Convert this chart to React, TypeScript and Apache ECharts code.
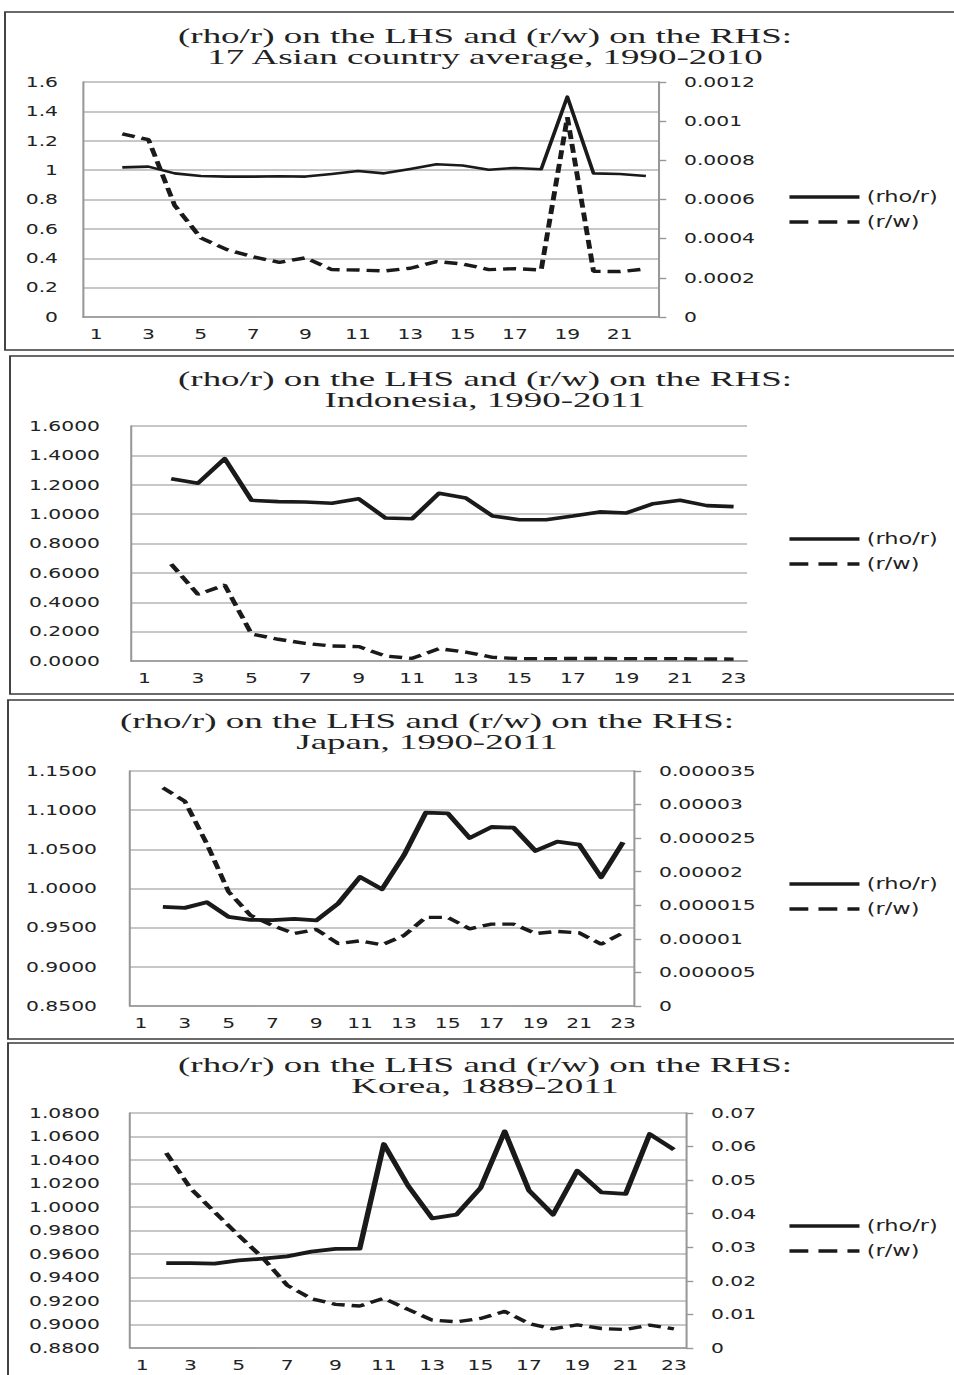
import React, { useEffect, useRef } from 'react';
import * as echarts from 'echarts';

// ---------- data ----------
const catsAsia = ['1', '2', '3', '4', '5', '6', '7', '8', '9', '10', '11', '12', '13', '14', '15', '16', '17', '18', '19', '20', '21', '22'];
const cats23 = ['1', '2', '3', '4', '5', '6', '7', '8', '9', '10', '11', '12', '13', '14', '15', '16', '17', '18', '19', '20', '21', '22', '23'];

const rhoAsia = [null, 1.019, 1.024, 0.978, 0.96, 0.956, 0.956, 0.958, 0.956, 0.974, 0.994, 0.978, 1.008, 1.04, 1.031, 1.003, 1.015, 1.006, 1.5, 0.978, 0.974, 0.96];
const rwAsia = [null, 0.000935, 0.000906, 0.00057, 0.000404, 0.000344, 0.000307, 0.000279, 0.000302, 0.000242, 0.00024, 0.000235, 0.000249, 0.000283, 0.000271, 0.000242, 0.000247, 0.00024, 0.00102, 0.000233, 0.000232, 0.000245];

const rhoIndo = [null, 1.241, 1.21, 1.378, 1.094, 1.085, 1.083, 1.074, 1.105, 0.974, 0.969, 1.142, 1.11, 0.987, 0.962, 0.962, 0.987, 1.015, 1.008, 1.071, 1.094, 1.058, 1.051];
const rwIndo = [null, 0.66, 0.454, 0.517, 0.184, 0.148, 0.12, 0.102, 0.098, 0.034, 0.018, 0.084, 0.061, 0.025, 0.016, 0.016, 0.017, 0.017, 0.016, 0.016, 0.016, 0.014, 0.013];

const rhoJapan = [null, 0.9766, 0.9753, 0.9825, 0.9638, 0.96, 0.9596, 0.9613, 0.9592, 0.9808, 1.0148, 0.9991, 1.0424, 1.0968, 1.096, 1.0645, 1.0785, 1.0777, 1.048, 1.0599, 1.056, 1.0144, 1.059];
const rwJapan = [null, 0.0000325, 0.0000305, 0.0000242, 0.000017, 0.0000135, 0.000012, 0.0000108, 0.0000114, 0.0000093, 0.0000097, 0.0000091, 0.0000105, 0.0000132, 0.0000132, 0.0000115, 0.0000122, 0.0000122, 0.0000108, 0.0000111, 0.0000109, 0.0000092, 0.0000109];

const rhoKorea = [null, 0.9523, 0.9523, 0.9518, 0.9546, 0.956, 0.958, 0.962, 0.9643, 0.9645, 1.0536, 1.0182, 0.9904, 0.9935, 1.0162, 1.0644, 1.0142, 0.9935, 1.0309, 1.0125, 1.0111, 1.0621, 1.0488];
const rwKorea = [null, 0.0581, 0.0476, 0.0405, 0.0335, 0.0268, 0.0187, 0.0147, 0.013, 0.0125, 0.0148, 0.0115, 0.0083, 0.0078, 0.0088, 0.0109, 0.0073, 0.0057, 0.0069, 0.0058, 0.0055, 0.0068, 0.0057];

const titles = [
  '(rho/r) on the LHS and (r/w) on the RHS:\n17 Asian country average, 1990-2010',
  '(rho/r) on the LHS and (r/w) on the RHS:\nIndonesia, 1990-2011',
  '(rho/r) on the LHS and (r/w) on the RHS:\nJapan, 1990-2011',
  '(rho/r) on the LHS and (r/w) on the RHS:\nKorea, 1889-2011',
];
const seriesNames = ['(rho/r)', '(r/w)'];

// axis ranges: [min, max, interval]
const leftAxes = [
  [0, 1.6, 0.2],
  [0, 1.6, 0.2],
  [0.85, 1.15, 0.05],
  [0.88, 1.08, 0.02],
];
const rightAxes = [
  [0, 0.0012, 0.0002],
  null,
  [0, 0.000035, 0.000005],
  [0, 0.07, 0.01],
];
const leftDecimals = [1, 4, 4, 4];
const rightDecimals = [4, 0, 6, 2];

// ---------- layout (reference pixels, x is stretched) ----------
const K = 1.45;
const X = (v: number) => v / K;
const W = 954;
const H = 1375;
const FONT = 'DejaVu Sans';
const INK = '#1a1a1a';
const AXC = '#979797';
const GRIDC = '#b4b4b4';
const DASH = [9, 4.8];

const panels = [
  { cats: catsAsia, rho: rhoAsia, rw: rwAsia, box: [5, 12, 338], titleY: 26, titleX: 485, grid: [83, 82, 659, 317], lm: 25, legendTop: 189, rhoW: 2.6 },
  { cats: cats23, rho: rhoIndo, rw: rwIndo, box: [10, 356, 338], titleY: 369, titleX: 485, grid: [131, 426, 747, 661], lm: 31, legendTop: 531, rhoW: 3.6 },
  { cats: cats23, rho: rhoJapan, rw: rwJapan, box: [8, 700, 339], titleY: 711, titleX: 427, grid: [130, 771, 634, 1006], lm: 33, legendTop: 876, rhoW: 3.8 },
  { cats: cats23, rho: rhoKorea, rw: rwKorea, box: [8, 1043, 400], titleY: 1055, titleX: 485, grid: [130, 1113, 686, 1348], lm: 30, legendTop: 1218, rhoW: 3.8 },
];

function trimNum(v: number, d: number) {
  if (Math.abs(v) < 1e-12) return '0';
  return String(parseFloat(v.toFixed(d)));
}

function buildOption() {
  const grid: any[] = [];
  const xAxis: any[] = [];
  const yAxis: any[] = [];
  const series: any[] = [];
  const legend: any[] = [];
  const graphic: any[] = [];
  const labelStyle = { color: '#222', fontFamily: FONT, fontSize: 14 };

  panels.forEach((p, i) => {
    const [gl, gt, gr, gb] = p.grid;
    grid.push({ left: X(gl), top: gt, width: X(gr - gl), height: gb - gt, containLabel: false });
    xAxis.push({
      type: 'category',
      gridIndex: i,
      data: p.cats,
      boundaryGap: true,
      axisLine: { show: true, onZero: false, lineStyle: { color: AXC, width: 1.6 } },
      axisTick: { show: false },
      splitLine: { show: false },
      axisLabel: { ...labelStyle, interval: 1, margin: 10 },
    });
    const la = leftAxes[i];
    const leftIndex = yAxis.length;
    const ld = leftDecimals[i];
    yAxis.push({
      type: 'value',
      gridIndex: i,
      position: 'left',
      min: la[0],
      max: la[1],
      interval: la[2],
      axisLine: { show: true, lineStyle: { color: AXC, width: 1.4 } },
      axisTick: { show: false },
      splitLine: { show: true, lineStyle: { color: GRIDC, width: 1.6 } },
      axisLabel: {
        ...labelStyle,
        margin: X(p.lm),
        formatter: (v: number) => (ld === 1 ? trimNum(v, 1) : v.toFixed(ld)),
      },
    });
    let rightIndex = leftIndex;
    const ra = rightAxes[i];
    if (ra) {
      rightIndex = yAxis.length;
      const rd = rightDecimals[i];
      yAxis.push({
        type: 'value',
        gridIndex: i,
        position: 'right',
        min: ra[0],
        max: ra[1],
        interval: ra[2],
        axisLine: { show: true, lineStyle: { color: AXC, width: 1.4 } },
        axisTick: { show: true, inside: false, length: 5, lineStyle: { color: AXC, width: 1.4 } },
        splitLine: { show: false },
        axisLabel: { ...labelStyle, margin: X(25), formatter: (v: number) => trimNum(v, rd) },
      });
    }
    series.push({
      type: 'line',
      name: seriesNames[0],
      xAxisIndex: i,
      yAxisIndex: leftIndex,
      data: p.rho,
      symbol: 'none',
      silent: true,
      itemStyle: { color: INK },
      lineStyle: { color: INK, width: p.rhoW, type: 'solid', join: 'round' },
    });
    series.push({
      type: 'line',
      name: seriesNames[1],
      xAxisIndex: i,
      yAxisIndex: rightIndex,
      data: p.rw,
      symbol: 'none',
      silent: true,
      itemStyle: { color: INK },
      lineStyle: { color: INK, width: 3.4, type: DASH, cap: 'butt' },
    });
    legend.push({
      orient: 'vertical',
      left: X(787),
      top: p.legendTop,
      padding: 0,
      itemWidth: X(70),
      itemHeight: 14,
      itemGap: 9,
      selectedMode: false,
      data: [
        { name: seriesNames[0], lineStyle: { color: INK, width: 3.4, type: 'solid' } },
        { name: seriesNames[1], lineStyle: { color: INK, width: 3.4, type: [13, 7], cap: 'butt' } },
      ],
      itemStyle: { opacity: 0 },
      textStyle: { ...labelStyle, fontSize: 15.5 },
    });
    graphic.push({
      type: 'rect',
      shape: { x: X(p.box[0]), y: p.box[1], width: X(1100), height: p.box[2] },
      style: { fill: 'none', stroke: '#3a3a3a', lineWidth: 1.3 },
      silent: true,
    });
    graphic.push({
      type: 'text',
      x: X(p.titleX),
      y: p.titleY,
      scaleX: 1.275,
      silent: true,
      style: {
        text: titles[i],
        fontFamily: 'Liberation Serif',
        fontSize: 20,
        lineHeight: 21,
        fill: '#222',
        align: 'center',
        verticalAlign: 'top',
      },
    });
  });

  return {
    animation: false,
    backgroundColor: '#ffffff',
    grid,
    xAxis,
    yAxis,
    series,
    legend,
    graphic,
  };
}

export default function App() {
  const ref = useRef<HTMLDivElement>(null);
  useEffect(() => {
    if (!ref.current) return;
    const chart = echarts.init(ref.current, undefined, { renderer: 'svg' });
    chart.setOption(buildOption() as any);
    return () => chart.dispose();
  }, []);
  return (
    <div
      ref={ref}
      style={{
        position: 'absolute',
        left: 0,
        top: 0,
        width: W / K,
        height: H,
        transform: `scaleX(${K})`,
        transformOrigin: '0 0',
        background: '#fff',
      }}
    />
  );
}
